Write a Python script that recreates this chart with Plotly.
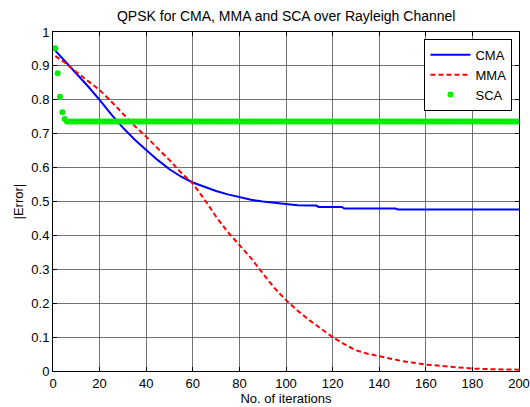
import plotly.graph_objects as go

# Iteration grid for the sampled error curves
iters = [1, 5, 10, 15, 20, 25, 30, 35, 40, 45, 50, 55, 60, 65, 70, 75, 80, 85, 90,
         95, 100, 105, 110, 113, 114, 120, 124, 125, 130, 140, 147, 148, 160, 170,
         180, 190, 200]

cma_err = [0.945, 0.915, 0.880, 0.840, 0.800, 0.757, 0.718, 0.683, 0.652, 0.622,
           0.595, 0.573, 0.556, 0.543, 0.531, 0.521, 0.512, 0.505, 0.500, 0.496,
           0.492, 0.489, 0.488, 0.488, 0.484, 0.484, 0.484, 0.479, 0.479, 0.479,
           0.479, 0.4765, 0.4765, 0.4765, 0.4765, 0.4765, 0.4765]

mma_iters = [1, 5, 10, 15, 20, 25, 30, 35, 40, 45, 50, 55, 60, 65, 70, 75, 80, 85,
             90, 95, 100, 105, 110, 115, 120, 125, 130, 135, 140, 145, 150, 160,
             170, 180, 190, 200]
mma_err = [0.929, 0.910, 0.882, 0.855, 0.829, 0.795, 0.758, 0.723, 0.691, 0.657,
           0.622, 0.585, 0.553, 0.506, 0.455, 0.410, 0.371, 0.333, 0.288, 0.245,
           0.209, 0.178, 0.150, 0.124, 0.100, 0.079, 0.061, 0.051, 0.043, 0.035,
           0.029, 0.019, 0.012, 0.007, 0.005, 0.004]

# SCA converges in a handful of iterations, then stays flat
sca_iters = list(range(1, 201))
sca_err = [0.952, 0.878, 0.809, 0.763, 0.743] + [0.736] * 195

x_ticks = [0, 20, 40, 60, 80, 100, 120, 140, 160, 180, 200]
y_ticks = [0, 0.1, 0.2, 0.3, 0.4, 0.5, 0.6, 0.7, 0.8, 0.9, 1]
y_tick_text = ["0", "0.1", "0.2", "0.3", "0.4", "0.5", "0.6", "0.7", "0.8", "0.9", "1"]

FONT = "Liberation Sans, Arial, sans-serif"

fig = go.Figure()
fig.add_trace(go.Scatter(x=iters, y=cma_err, mode="lines", name="CMA",
                         line=dict(color="#0000ff", width=2)))
fig.add_trace(go.Scatter(x=mma_iters, y=mma_err, mode="lines", name="MMA",
                         line=dict(color="#ff0000", width=2, dash="5px,3px")))
fig.add_trace(go.Scatter(x=sca_iters, y=sca_err, mode="markers", name="SCA",
                         marker=dict(color="#00ee00", size=6)))

axis_common = dict(
    showline=True, linecolor="black", linewidth=1, mirror="ticks",
    ticks="inside", ticklen=4, tickcolor="black",
    showgrid=True, gridcolor="rgba(70,70,70,0.75)", gridwidth=1,
    zeroline=False, tickfont=dict(size=13, color="black", family=FONT),
    automargin=False,
)

fig.update_xaxes(range=[0, 200], tickvals=x_ticks,
                 title=dict(text="No. of iterations",
                            font=dict(size=13, color="black", family=FONT),
                            standoff=0),
                 **axis_common)
fig.update_yaxes(range=[0, 1], tickvals=y_ticks, ticktext=y_tick_text,
                 **axis_common)

fig.update_layout(
    width=530, height=407,
    margin=dict(l=53, r=11, t=32, b=36),
    paper_bgcolor="white", plot_bgcolor="white",
    font=dict(family=FONT, size=13, color="black"),
    title=dict(text="QPSK for CMA, MMA and SCA over Rayleigh Channel",
               x=0.54, xanchor="center", y=0.96, yanchor="middle",
               font=dict(size=14, color="black", family=FONT)),
    legend=dict(x=0.986, y=0.98, xanchor="right", yanchor="top",
                bgcolor="white", bordercolor="black", borderwidth=1,
                font=dict(size=13, color="black", family=FONT), tracegroupgap=0,
                itemwidth=40),
    annotations=[dict(text="|Error|", xref="paper", yref="paper",
                      x=-0.073, y=0.5, xanchor="center", yanchor="middle",
                      textangle=-90, showarrow=False,
                      font=dict(size=13, color="black", family=FONT))],
    showlegend=True,
)

fig.write_html("out.html")
